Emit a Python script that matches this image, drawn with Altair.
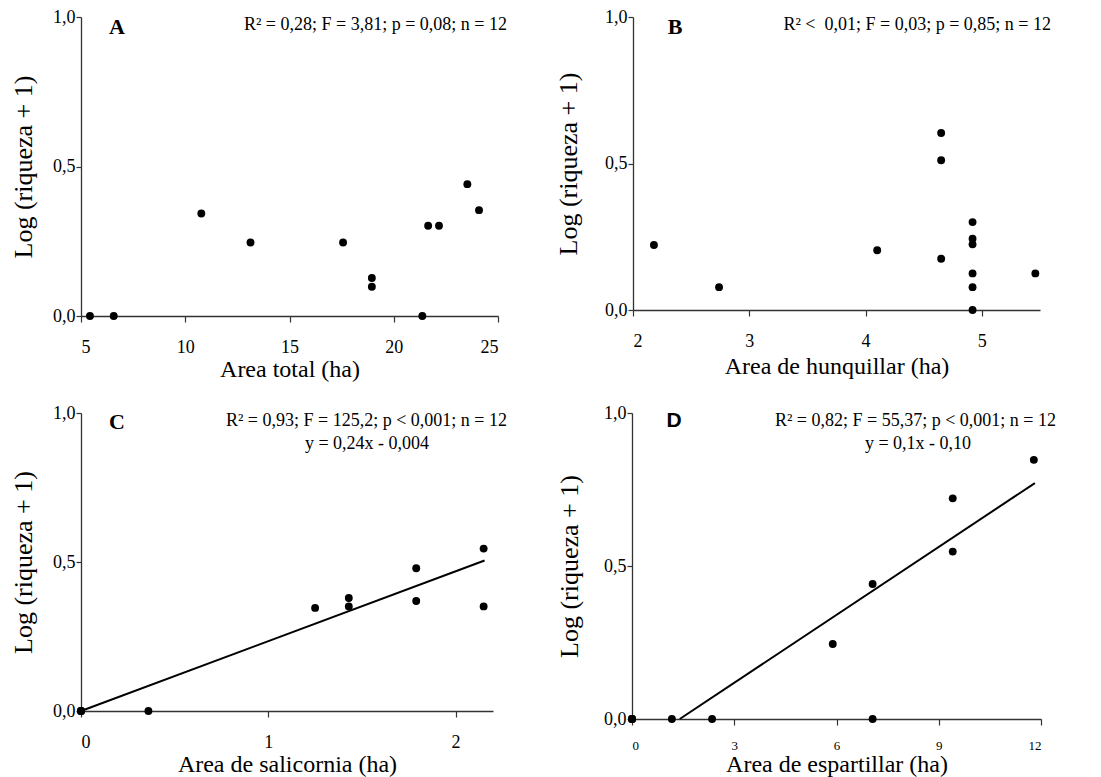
import altair as alt
import pandas as pd

# ---------------- data ----------------
# Panel A: Area total (ha)
a_x = [5.43, 6.57, 10.77, 13.13, 17.57, 18.95, 18.95, 21.37, 21.65, 22.17, 23.53, 24.09]
a_y = [0.0, 0.0, 0.343, 0.246, 0.246, 0.127, 0.098, 0.0, 0.302, 0.302, 0.441, 0.354]

# Panel B: Area de hunquillar (ha)
b_x = [2.18, 2.74, 4.10, 4.65, 4.65, 4.65, 4.92, 4.92, 4.92, 4.92, 4.92, 4.92, 5.46]
b_y = [0.222, 0.078, 0.204, 0.604, 0.511, 0.175, 0.300, 0.224, 0.243, 0.125, 0.078, 0.0, 0.125]

# Panel C: Area de salicornia (ha)
c_x = [0.0, 0.0, 0.0, 0.0, 0.36, 1.25, 1.43, 1.43, 1.79, 1.79, 2.15, 2.15]
c_y = [0.0, 0.0, 0.0, 0.0, 0.0, 0.346, 0.379, 0.351, 0.479, 0.369, 0.545, 0.351]
c_fit_x = [0.0, 2.155]
c_fit_y = [0.0, 0.505]

# Panel D: Area de espartillar (ha)
d_x = [0.0, 0.0, 0.0, 0.0, 1.17, 2.35, 7.06, 5.89, 7.06, 9.41, 9.41, 11.79]
d_y = [0.0, 0.0, 0.0, 0.0, 0.0, 0.0, 0.0, 0.245, 0.441, 0.721, 0.547, 0.847]
d_fit_x = [1.40, 11.82]
d_fit_y = [0.0, 0.771]

y_ticks = [0.0, 0.5, 1.0]
y_title = "Log (riqueza + 1)"

SERIF = "Liberation Serif"
SANS = "Liberation Sans"
AXC = "#333333"


def panel(xs, ys, fit_x, fit_y, xdom, xticks, xtitle, w, h,
          letter, letter_font, letter_size, letter_pos,
          stats, stats_pos, eq=None, eq_pos=None,
          xlab_size=18, xlab_pad=16, xtitle_pad=1, ytitle_pad=16):
    xscale = alt.Scale(domain=xdom, nice=False, zero=False)
    yscale = alt.Scale(domain=[0, 1], nice=False, zero=False)
    xaxis = alt.Axis(values=xticks, format="d", title=xtitle, grid=False,
                     domainColor=AXC, tickColor=AXC, domainWidth=1.3, tickWidth=1.2,
                     tickSize=6, labelFont=SERIF, labelFontSize=xlab_size,
                     labelColor="black", labelPadding=xlab_pad,
                     titleFont=SERIF, titleFontSize=24, titleFontWeight="normal",
                     titleColor="black", titlePadding=xtitle_pad)
    yaxis = alt.Axis(values=y_ticks, title=y_title, grid=False,
                     labelExpr="replace(format(datum.value, '.1f'), '.', ',')",
                     domainColor=AXC, tickColor=AXC, domainWidth=1.3, tickWidth=1.2,
                     tickSize=5, labelFont=SERIF, labelFontSize=18,
                     labelColor="black", labelPadding=1,
                     titleFont=SERIF, titleFontSize=26, titleFontWeight="normal",
                     titleColor="black", titlePadding=ytitle_pad)
    df = pd.DataFrame({"x": xs, "y": ys})
    pts = alt.Chart(df).mark_circle(size=62, color="black", opacity=1).encode(
        x=alt.X("x:Q", scale=xscale, axis=xaxis, title=xtitle),
        y=alt.Y("y:Q", scale=yscale, axis=yaxis, title=y_title),
    )
    layers = [pts]
    if fit_x is not None:
        fdf = pd.DataFrame({"x": fit_x, "y": fit_y})
        line = alt.Chart(fdf).mark_line(color="black", strokeWidth=2).encode(
            x=alt.X("x:Q", scale=xscale, axis=xaxis, title=xtitle),
            y=alt.Y("y:Q", scale=yscale, axis=yaxis, title=y_title),
        )
        layers.append(line)
    lt = alt.Chart(pd.DataFrame({"t": [letter]})).mark_text(
        font=letter_font, fontSize=letter_size, fontWeight="bold",
        color="black", align="center", baseline="middle"
    ).encode(text="t:N", x=alt.value(letter_pos[0]), y=alt.value(letter_pos[1]))
    layers.append(lt)
    st = alt.Chart(pd.DataFrame({"t": [stats]})).mark_text(
        font=SERIF, fontSize=18, color="black", align="right", baseline="middle"
    ).encode(text="t:N", x=alt.value(stats_pos[0]), y=alt.value(stats_pos[1]))
    layers.append(st)
    if eq is not None:
        et = alt.Chart(pd.DataFrame({"t": [eq]})).mark_text(
            font=SERIF, fontSize=18, color="black", align="center", baseline="middle"
        ).encode(text="t:N", x=alt.value(eq_pos[0]), y=alt.value(eq_pos[1]))
        layers.append(et)
    return alt.layer(*layers).properties(width=w, height=h)


pA = panel(a_x, a_y, None, None, [5, 25], [5, 10, 15, 20, 25], "Area total (ha)",
           417, 299, "A", SERIF, 22, (36, 10),
           "R² = 0,28; F = 3,81; p = 0,08; n = 12", (426, 8),
           xtitle_pad=1, ytitle_pad=16)
pB = panel(b_x, b_y, None, None, [2, 5.5], [2, 3, 4, 5], "Area de hunquillar (ha)",
           407, 293, "B", SERIF, 22, (42, 10),
           "R² <\u00a0 0,01; F = 0,03; p = 0,85; n = 12", (418, 8),
           xtitle_pad=4, ytitle_pad=23)
pC = panel(c_x, c_y, c_fit_x, c_fit_y, [0, 2.2], [0, 1, 2], "Area de salicornia (ha)",
           412, 298, "C", SERIF, 22, (36, 9),
           "R² = 0,93; F = 125,2; p < 0,001; n = 12", (426, 8),
           eq="y = 0,24x - 0,004", eq_pos=(286, 31),
           xtitle_pad=1, ytitle_pad=16)
pD = panel(d_x, d_y, d_fit_x, d_fit_y, [0, 12], [0, 3, 6, 9, 12], "Area de espartillar (ha)",
           409, 306, "D", SANS, 21, (42, 8),
           "R² = 0,82; F = 55,37; p < 0,001; n = 12", (424, 8),
           eq="y = 0,1x - 0,10", eq_pos=(286, 31),
           xlab_size=13, xlab_pad=14, xtitle_pad=0, ytitle_pad=21)

row1 = alt.hconcat(pA, pB, spacing=48)
row2 = alt.hconcat(pC, pD, spacing=49)
chart = alt.vconcat(row1, row2, spacing=23).properties(
    padding={"left": 2, "top": 0, "right": 5, "bottom": 5}
).configure_view(stroke=None)

chart.save("out.html", embed_options={"renderer": "svg", "actions": False})
